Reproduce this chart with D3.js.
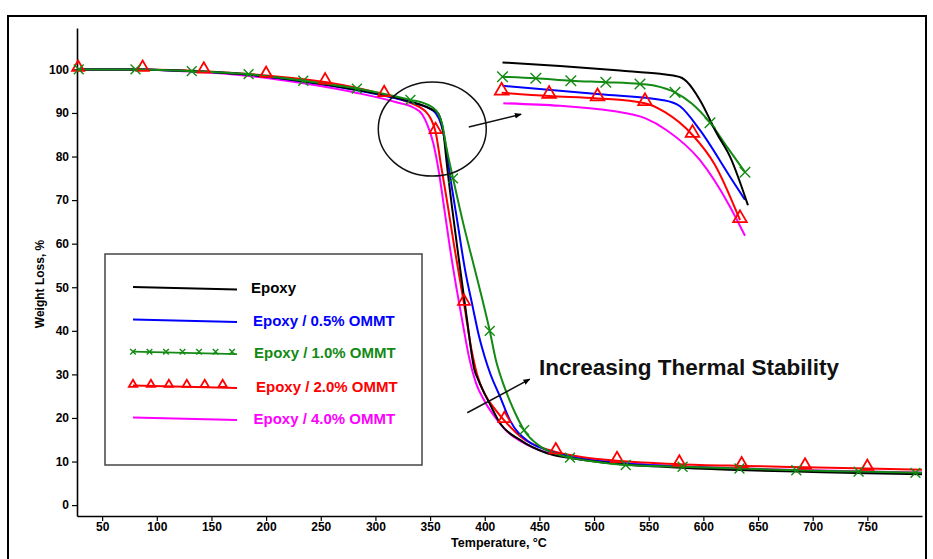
<!DOCTYPE html>
<html>
<head>
<meta charset="utf-8">
<script src="https://cdn.jsdelivr.net/npm/d3@7"></script>
<style>
  body { margin: 0; background: #fff; }
  text { font-family: Arial, "Liberation Sans", sans-serif; font-weight: bold; }
</style>
</head>
<body>
<svg id="chart" width="933" height="559"></svg>
<script>
// tick labels
const tempTicks = [50, 100, 150, 200, 250, 300, 350, 400, 450, 500, 550, 600, 650, 700, 750];
const weightTicks = [0, 10, 20, 30, 40, 50, 60, 70, 80, 90, 100];

const seriesNames = ["Epoxy", "Epoxy / 0.5% OMMT", "Epoxy / 1.0% OMMT", "Epoxy / 2.0% OMMT", "Epoxy / 4.0% OMMT"];
const seriesColors = ["#000000", "#0000ff", "#138a13", "#ff0000", "#ff00ff"];

// [temperature °C, weight %]
const epoxy = [[28,100],[80,100],[132,99.6],[184,98.8],[234,97.3],[283,95.3],[332,92.6],[350,91.0],[357,90.0],[360,88.2],[362.5,85],[365,79],[370,68.5],[376,57],[383.3,43.5],[390.6,31],[394,28.8],[398,26.5],[403.7,23.7],[414,18.8],[432.6,14.9],[457,11.9],[481,10.7],[520,9.5],[580,8.6],[640,8.0],[700,7.6],[750,7.3],[800,7.1]];
const ommt05 = [[28,100],[80,100],[132,99.6],[184,98.8],[234,97.2],[283,95.2],[332,92.5],[348,91.2],[355,90.0],[360,87.5],[364,83],[368,76],[375,65],[382,54],[389,45.5],[395,38.5],[400,34],[405,30.2],[414,24.9],[423,19.5],[440,14.6],[455,12.8],[480,11.0],[520,9.7],[580,8.8],[640,8.2],[700,7.8],[750,7.5],[800,7.3]];
const ommt10 = [[28,100],[80.5,100],[132,99.6],[184,98.9],[234,97.4],[283,95.6],[332,93.0],[345,92.2],[352,91.3],[357,90],[361,87.5],[365,82],[371,75],[380,65],[390,55],[398,47],[404.6,40],[410,33.5],[416,28.5],[422,24.5],[429,20.5],[436,17.2],[450,13.6],[465,11.8],[478,10.9],[500,10.0],[529,9.2],[581,8.8],[633,8.4],[685,8.0],[742,7.7],[800,7.4]];
const ommt20 = [[28,100],[87,100],[143,99.6],[200,98.6],[254,97.1],[308,94.2],[330,92.5],[340,91.4],[346,90.3],[351,88.5],[355,85.7],[360,78],[366,69],[372,59.5],[381,46.3],[388,35.5],[393,30],[400,25.5],[410,21.8],[418,19.4],[435,15.3],[450,13.4],[465,12.2],[490,11],[521,10.2],[578,9.4],[635,9.0],[693,8.7],[750,8.4],[800,8.1]];
const ommt40 = [[28,100],[80,100],[132,99.5],[184,98.5],[234,96.8],[283,94.6],[320,92.4],[335,91.2],[343,89.6],[348,87],[353,83],[358,76.5],[363,68],[368,59.3],[374,50],[380,41.5],[386,33.5],[392,28],[400,23.8],[410,20],[420,17],[434,14.5],[455,12.2],[480,11.0],[520,9.8],[580,8.9],[640,8.4],[700,8.0],[750,7.7],[800,7.5]];

const ommt10Marks = [[28.6,100],[80.5,100],[132,99.6],[184,98.9],[234,97.4],[283,95.6],[332,93.0],[371,75],[404.6,40],[436,17.2],[478,10.9],[529,9.2],[581,8.8],[633,8.4],[685,8.0],[742,7.7],[794,7.4]];
const ommt20Marks = [[28,100],[87,100],[143,99.6],[200,98.6],[254,97.1],[308,94.2],[355,85.7],[381,46.3],[418,19.4],[465,12.2],[521,10.2],[578,9.4],[635,9.0],[693,8.7],[750,8.4]];

// magnified view of the onset region
const epoxyInset = [[320.6,99.6],[334.4,99.0],[348.8,98.25],[358.4,97.7],[361.6,97.4],[363.7,97.0],[364.8,96.4],[368,93.3],[372,87.8],[375.2,83.9],[379.5,75.8]];
const ommt05Inset = [[320.6,95.7],[344,94.3],[359.2,93.3],[363.2,92.3],[368,88.3],[375.2,80.55],[378.8,76.7]];
const ommt10Inset = [[320.6,97.2],[328.6,96.95],[337,96.55],[345.4,96.3],[353.6,96.0],[357.2,95.7],[362,94.6],[366.1,92.7],[370.4,89.55],[374.7,85.3],[378.8,81.3]];
const ommt20Inset = [[320.4,94.55],[331.8,94.0],[343.4,93.6],[354.8,92.8],[359.6,91.3],[366.2,87.5],[371.6,82.5],[377.6,73.3]];
const ommt40Inset = [[320.8,92.8],[348,91.4],[354.8,90.3],[360,88.3],[368,83.3],[375.2,75.55],[378.8,70.7]];
const ommt10InsetMarks = [[320.6,97.2],[328.6,96.95],[337,96.55],[345.4,96.3],[353.6,96.0],[362,94.6],[370.4,89.55],[378.8,81.3]];
const ommt20InsetMarks = [[320.4,94.55],[331.8,94.0],[343.4,93.6],[354.8,92.8],[366.2,87.5],[377.6,73.3]];

const svg = d3.select("#chart");
svg.append("rect").attr("width", 933).attr("height", 559).attr("fill", "#fff");
svg.append("rect").attr("x", 8).attr("y", 16).attr("width", 918).attr("height", 600)
  .attr("fill", "none").attr("stroke", "#000").attr("stroke-width", 2);

const x = d3.scaleLinear([27, 800], [77, 922]);
const y = d3.scaleLinear([-2.5, 109.5], [516, 28]);

// axes
const xAxis = svg.append("g").attr("transform", "translate(0,516)");
xAxis.call(d3.axisBottom(x).tickValues(d3.range(30, 801, 10)).tickSize(3).tickSizeOuter(0).tickFormat(""));
xAxis.call(d3.axisBottom(x).tickValues(tempTicks).tickSize(5).tickSizeOuter(0).tickPadding(1));
const yAxis = svg.append("g").attr("transform", "translate(77,0)");
yAxis.call(d3.axisLeft(y).tickValues(d3.range(-2, 109, 2)).tickSize(3).tickSizeOuter(0).tickFormat(""));
yAxis.call(d3.axisLeft(y).tickValues(weightTicks).tickSize(5).tickSizeOuter(0).tickPadding(3));
svg.selectAll(".domain").attr("stroke-width", 1.6);
svg.selectAll(".tick line").attr("stroke-width", 1.2);
svg.selectAll(".tick text").attr("font-size", 12).attr("font-family", "Arial, 'Liberation Sans', sans-serif")
  .attr("font-weight", "bold").attr("fill", "#000");

svg.append("text").attr("x", 499).attr("y", 547).attr("text-anchor", "middle")
  .attr("font-size", 12.5).text("Temperature, °C");
svg.append("text").attr("transform", "translate(44,284) rotate(-90)").attr("text-anchor", "middle")
  .attr("font-size", 12).text("Weight Loss, %");

// curves
const line = d3.line().x(d => x(d[0])).y(d => y(d[1])).curve(d3.curveMonotoneX);
const mainSeries = [epoxy, ommt05, ommt10, ommt20, ommt40];
const drawOrder = [4, 3, 1, 0, 2];
drawOrder.forEach(i => {
  svg.append("path").datum(mainSeries[i]).attr("d", line)
    .attr("fill", "none").attr("stroke", seriesColors[i]).attr("stroke-width", 2);
});

const tri = d3.symbol().type(d3.symbolTriangle);
const cross = d3.symbol().type(d3.symbolTimes);
function drawMarks(data, sx, sy, triSize, crossSize, kind) {
  svg.append("g").selectAll("path").data(data).join("path")
    .attr("transform", d => `translate(${sx(d[0])},${sy(d[1]) - (kind === "tri" ? 2 : 0)})`)
    .attr("d", kind === "tri" ? tri.size(triSize)() : cross.size(crossSize)())
    .attr("fill", kind === "tri" ? "none" : seriesColors[2])
    .attr("stroke", kind === "tri" ? seriesColors[3] : seriesColors[2])
    .attr("stroke-width", kind === "tri" ? 1.8 : 1.4);
}
drawMarks(ommt20Marks, x, y, 62, 0, "tri");
drawMarks(ommt10Marks, x, y, 0, 65, "cross");

// inset
const xIn = d3.scaleLinear([320, 380], [500, 750]);
const yIn = d3.scaleLinear([70, 100], [240, 60]);
const lineIn = d3.line().x(d => xIn(d[0])).y(d => yIn(d[1])).curve(d3.curveMonotoneX);
const insetSeries = [epoxyInset, ommt05Inset, ommt10Inset, ommt20Inset, ommt40Inset];
[4, 3, 1, 2, 0].forEach(i => {
  svg.append("path").datum(insetSeries[i]).attr("d", lineIn)
    .attr("fill", "none").attr("stroke", seriesColors[i]).attr("stroke-width", 2);
});
drawMarks(ommt20InsetMarks, xIn, yIn, 80, 0, "tri");
drawMarks(ommt10InsetMarks, xIn, yIn, 0, 75, "cross");

// annotations
svg.append("defs").append("marker").attr("id", "arrow").attr("viewBox", "0 0 10 10")
  .attr("refX", 9).attr("refY", 5).attr("markerWidth", 7).attr("markerHeight", 7)
  .attr("markerUnits", "userSpaceOnUse").attr("orient", "auto")
  .append("path").attr("d", "M0,1 L10,5 L0,9 Z").attr("fill", "#000");

svg.append("ellipse").attr("cx", x(352)).attr("cy", y(86.3)).attr("rx", 54).attr("ry", 47)
  .attr("fill", "none").attr("stroke", "#111").attr("stroke-width", 1.5);
svg.append("line").attr("x1", x(385.4)).attr("y1", y(86.8)).attr("x2", x(433.3)).attr("y2", y(89.7))
  .attr("stroke", "#111").attr("stroke-width", 1.5).attr("marker-end", "url(#arrow)");
svg.append("line").attr("x1", x(384)).attr("y1", y(21.2)).attr("x2", x(441.2)).attr("y2", y(28.9))
  .attr("stroke", "#111").attr("stroke-width", 1.5).attr("marker-end", "url(#arrow)");
svg.append("text").attr("x", x(449.6)).attr("y", y(29.8)).attr("font-size", 22.5).attr("fill", "#111")
  .text("Increasing Thermal Stability");

// legend
svg.append("rect").attr("x", 105).attr("y", 254).attr("width", 317).attr("height", 211)
  .attr("fill", "#fff").attr("stroke", "#444").attr("stroke-width", 1.5);
const legendRows = [287, 319.5, 351.7, 385.5, 417.5];
const legendTextX = [251, 253, 254, 256, 253.5];
seriesNames.forEach((name, i) => {
  const ly = legendRows[i];
  svg.append("line").attr("x1", 133).attr("y1", ly).attr("x2", 237).attr("y2", ly + 2.5)
    .attr("stroke", seriesColors[i]).attr("stroke-width", 1.8);
  svg.append("text").attr("x", legendTextX[i]).attr("y", ly + 6).attr("font-size", 15)
    .attr("fill", seriesColors[i]).text(name);
});
const legX = d3.scaleLinear([0, 1], [133, 237]);
const legCross = d3.range(7).map(k => [k / 6.3, legendRows[2]]);
const legTri = d3.range(6).map(k => [k / 5.8, legendRows[3]]);
drawMarks(legCross, legX, v => v, 0, 22, "cross");
drawMarks(legTri, legX, v => v + 1, 30, 0, "tri");
</script>
</body>
</html>
